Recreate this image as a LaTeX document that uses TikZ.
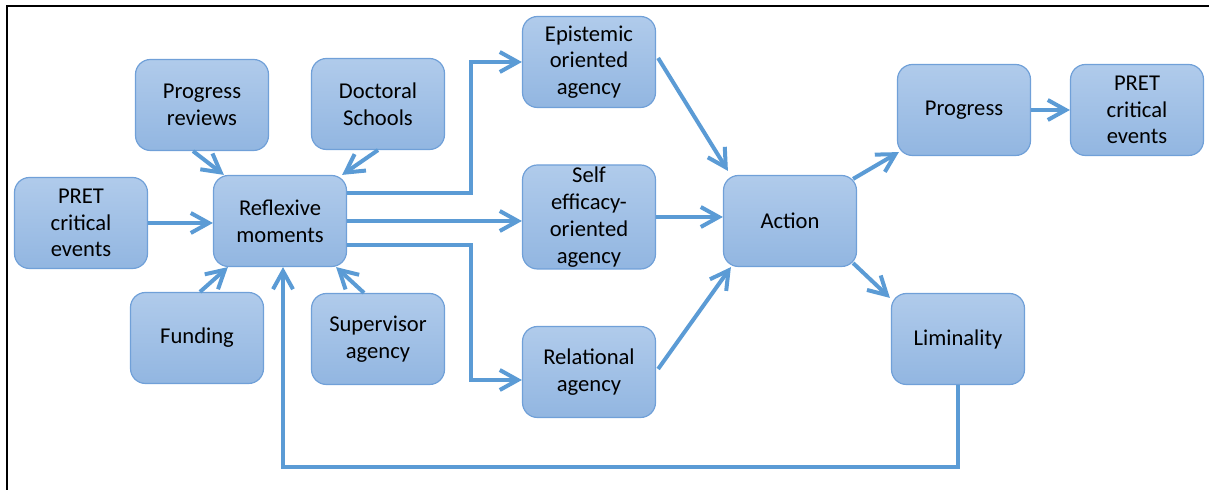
\documentclass[tikz,border=0pt]{standalone}
\usepackage{fontspec}
\setmainfont{Carlito}
\usetikzlibrary{arrows.meta}

\definecolor{boxtop}{RGB}{176,203,235}
\definecolor{boxbot}{RGB}{146,182,225}
\definecolor{boxedge}{RGB}{112,160,216}
\definecolor{flowblue}{RGB}{91,155,213}

\tikzset{
  agentbox/.style={draw=boxedge, line width=0.6pt, rounded corners=7.5pt,
    top color=boxtop, bottom color=boxbot, minimum width=66.5pt,
    minimum height=45.5pt, inner sep=0pt, align=center, text=black,
    font=\fontsize{11.3}{13.4}\selectfont},
  flow/.style={draw=flowblue, line width=2pt,
    -{Straight Barb[length=9pt,width=10pt]}},
}

\begin{document}
\begin{tikzpicture}[x=0.5pt,y=-0.5pt]
\useasboundingbox (0,0) rectangle (1209,490);
\draw[line width=1pt] (7,490) -- (7,6) -- (1209,6);

% inputs around the reflexive moments
\node[agentbox] (pretl) at (81,223) {PRET\\critical\\events};
\node[agentbox] (progrev) at (202,105) {Progress\\reviews};
\node[agentbox] (docsch) at (378,104) {Doctoral\\Schools};
\node[agentbox] (refl) at (280,221) {Reflexive\\moments};
\node[agentbox] (funding) at (197,338) {Funding};
\node[agentbox] (superv) at (378,339) {Supervisor\\agency};

% agency
\node[agentbox] (epist) at (589,62) {Epistemic\\oriented\\agency};
\node[agentbox, minimum height=52pt] (selfeff) at (589,217) {Self\\efficacy-\\oriented\\agency};
\node[agentbox] (relat) at (589,372) {Relational\\agency};

% outcomes
\node[agentbox] (action) at (790,221) {Action};
\node[agentbox] (progr) at (964,110) {Progress};
\node[agentbox] (pretr) at (1137,110) {PRET\\critical\\events};
\node[agentbox] (limin) at (958,339) {Liminality};

\coordinate (upturn) at (471,193);
\coordinate (downturn) at (471,245);
\coordinate (loop) at (283,467);

\draw[flow] (pretl.east) -- (pretl.east -| refl.west);
\draw[flow] ([shift={(-9,0)}]progrev.south) -- ([shift={(11,0)}]refl.north west);
\draw[flow] (docsch.south) -- ([shift={(-5,0)}]refl.north east);
\draw[flow] ([shift={(3,0)}]funding.north) -- ([shift={(15,0)}]refl.south west);
\draw[flow] ([shift={(-14,0)}]superv.north) -- ([shift={(-11,0)}]refl.south east);

\draw[flow] ([shift={(0,-28)}]refl.east) -- (upturn) |- (epist.west);
\draw[flow] (refl.east) -- (refl.east -| selfeff.west);
\draw[flow] ([shift={(0,24)}]refl.east) -- (downturn) |- ([shift={(0,8)}]relat.west);

\draw[flow] ([shift={(2,-4)}]epist.east) -- ([shift={(5,-4)}]action.north west);
\draw[flow] (selfeff.east) -- (selfeff.east -| action.west);
\draw[flow] ([shift={(2,-3)}]relat.east) -- ([shift={(8,0)}]action.south west);

\draw[flow] ([shift={(-4,4)}]action.north east) -- ([shift={(2,-4)}]progr.south west);
\draw[flow] ([shift={(-4,-4)}]action.south east) -- ([shift={(-1,5)}]limin.north west);
\draw[flow] (progr.east) -- (pretr.west);

% feedback from liminality
\draw[flow] (limin.south) |- (loop) -- ([shift={(3,0)}]refl.south);
\end{tikzpicture}
\end{document}
